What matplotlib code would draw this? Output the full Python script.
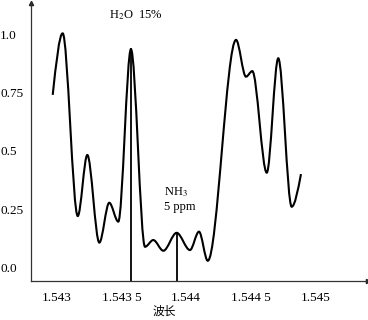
import matplotlib
matplotlib.use("Agg")
import matplotlib.pyplot as plt
from matplotlib.path import Path
from matplotlib.patches import PathPatch

plt.rcParams['font.family'] = ['Liberation Serif', 'Noto Sans CJK SC']
plt.rcParams['mathtext.fontset'] = 'stix'

# Spectrum (wavelength, normalized intensity) at turning points
wavelength = [1.542966, 1.543043, 1.543160, 1.543234, 1.543327, 1.543404, 1.543474,
              1.543572, 1.543681, 1.543745, 1.543823, 1.543926, 1.544029, 1.544099,
              1.544167, 1.544386, 1.544463, 1.544512, 1.544624, 1.544713, 1.544817,
              1.544889]
intensity = [0.740, 1.004, 0.220, 0.482, 0.106, 0.277, 0.196,
             0.936, 0.088, 0.117, 0.071, 0.148, 0.074, 0.153,
             0.028, 0.976, 0.818, 0.842, 0.406, 0.897, 0.260,
             0.400]

h2o_line = (1.543572, 0.936)
nh3_line = (1.543926, 0.148)

xticks = [1.543, 1.5435, 1.544, 1.5445, 1.545]
xtick_labels = ['1.543', '1.543 5', '1.544', '1.544 5', '1.545']
yticks = [0.0, 0.25, 0.5, 0.75, 1.0]
ytick_labels = ['0.0', '0.25', '0.5', '0.75', '1.0']

fig = plt.figure(figsize=(3.68, 3.20), dpi=100)
ax = fig.add_axes([31/368, 39/320, 337/368, 278/320])
ax.set_xlim(1.5427978, 1.5454082)
ax.set_ylim(-0.0588, 1.1343)

# smooth curve: cubic Bezier segments with flat tangents at turning points
n = len(wavelength)
slopes = [0.0] * n
slopes[0] = 1.5 * (intensity[1] - intensity[0]) / (wavelength[1] - wavelength[0])
slopes[-1] = 1.5 * (intensity[-1] - intensity[-2]) / (wavelength[-1] - wavelength[-2])
verts = [(wavelength[0], intensity[0])]
codes = [Path.MOVETO]
for i in range(n - 1):
    x0, y0, x1, y1 = wavelength[i], intensity[i], wavelength[i + 1], intensity[i + 1]
    d = (x1 - x0) / 3
    verts += [(x0 + d, y0 + slopes[i] * d), (x1 - d, y1 - slopes[i + 1] * d), (x1, y1)]
    codes += [Path.CURVE4] * 3
ax.add_patch(PathPatch(Path(verts, codes), facecolor='none', edgecolor='black', lw=1.5))

ymin = ax.get_ylim()[0]
ax.plot([h2o_line[0], h2o_line[0]], [ymin, h2o_line[1]], color='black', lw=1.3)
ax.plot([nh3_line[0], nh3_line[0]], [ymin, nh3_line[1]], color='black', lw=1.3)

for s in ['top', 'right']:
    ax.spines[s].set_visible(False)
for s in ['left', 'bottom']:
    ax.spines[s].set_color('#333333')
    ax.spines[s].set_linewidth(0.9)
ax.plot([0], [1], marker='^', color='#222222', ms=3, transform=ax.transAxes, clip_on=False)
ax.plot([1], [0], marker='>', color='#222222', ms=3, transform=ax.transAxes, clip_on=False)

ax.set_xticks(xticks)
ax.set_xticklabels(xtick_labels, fontsize=9.5)
ax.set_yticks(yticks)
ax.set_yticklabels(ytick_labels, fontsize=9.5)
ax.tick_params(axis='x', length=0, pad=8)
ax.tick_params(axis='y', length=0, pad=22.3)
for lab in ax.get_yticklabels():
    lab.set_horizontalalignment('left')

ax.set_xlabel('波长', fontsize=8.5, family='Noto Sans CJK SC')
ax.xaxis.set_label_coords(0.395, -0.085)

ax.text(1.543402, 1.069, 'H$_2$O  15%', fontsize=9, va='baseline', ha='left')
ax.text(1.543828, 0.31, 'NH$_3$', fontsize=9, va='baseline', ha='left')
ax.text(1.543828, 0.246, '5 ppm', fontsize=9, va='baseline', ha='left')

fig.savefig('out.png', dpi=100)
